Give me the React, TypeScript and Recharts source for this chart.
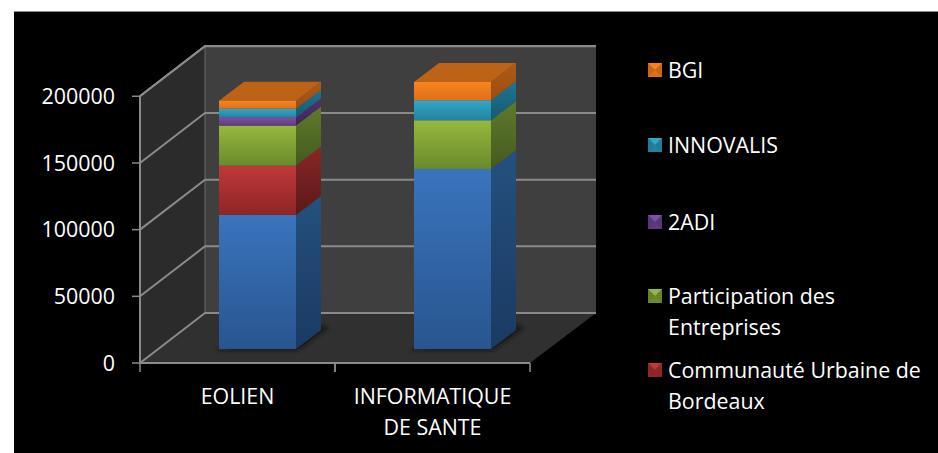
import React from 'react';
import { BarChart, Bar, XAxis, YAxis, CartesianGrid, Legend } from 'recharts';

const categories = ['EOLIEN', 'INFORMATIQUE DE SANTE'];
const yTicks = [0, 50000, 100000, 150000, 200000];

const baseValues = [100500, 135000];
const cubValues = [37000, 0];
const entreprisesValues = [30000, 36500];
const adiValues = [6200, 0];
const innovalisValues = [6500, 15000];
const bgiValues = [6000, 13700];

const data = categories.map((name, i) => ({
  name,
  base: baseValues[i],
  cub: cubValues[i],
  entreprises: entreprisesValues[i],
  adi: adiValues[i],
  innovalis: innovalisValues[i],
  bgi: bgiValues[i],
}));

const W = 938;
const H = 453;
const LEFT = 140;
const RIGHT = 530;
const TOP = 96;
const BOTTOM = 363;
const DEPTH_X = 65;
const DEPTH_Y = 50;
const BAND = (RIGHT - LEFT) / categories.length;
const GRID = '#8a8a8a';
const FONT = '"Open Sans", sans-serif';
const FONT_SIZE = 21.4;

const series = [
  { key: 'base', name: 'Financement', front: ['#3a74bd', '#28558f'], side: ['#25507f', '#1a3a62'] },
  { key: 'cub', name: 'Communauté Urbaine de\nBordeaux', front: ['#c0393a', '#8e2526'], side: ['#8a2727', '#5a1818'], legendTop: 354 },
  { key: 'entreprises', name: 'Participation des\nEntreprises', front: ['#97b83e', '#6a8a2c'], side: ['#5f7a2a', '#455a1f'], legendTop: 280 },
  { key: 'adi', name: '2ADI', front: ['#7f4fa3', '#5f3a80'], side: ['#4f3270', '#3d2658'], legendTop: 206 },
  { key: 'innovalis', name: 'INNOVALIS', front: ['#36a6c8', '#23839f'], side: ['#1f7590', '#165a70'], legendTop: 129 },
  { key: 'bgi', name: 'BGI', front: ['#f6841f', '#e0701a'], side: ['#b05a15', '#9a4e12'], legendTop: 54 },
];

const pts = (list: number[][]) => list.map((p) => p.join(',')).join(' ');

// the 3D box sits behind the chart's own svg
const Walls = () => (
  <svg width={W} height={H} style={{ position: 'absolute', left: 0, top: 0 }}>
    <polygon points={pts([[LEFT, TOP], [LEFT + DEPTH_X, TOP - DEPTH_Y], [LEFT + DEPTH_X, BOTTOM - DEPTH_Y], [LEFT, BOTTOM]])} fill="#2b2b2b" />
    <rect x={LEFT + DEPTH_X} y={TOP - DEPTH_Y} width={RIGHT - LEFT + 1} height={BOTTOM - TOP} fill="#3f3f3f" />
    <polygon points={pts([[LEFT, BOTTOM], [LEFT + DEPTH_X, BOTTOM - DEPTH_Y], [RIGHT + DEPTH_X + 1, BOTTOM - DEPTH_Y], [RIGHT, BOTTOM]])} fill="#303030" />
    <line x1={LEFT + DEPTH_X} x2={LEFT + DEPTH_X} y1={TOP - DEPTH_Y} y2={BOTTOM - DEPTH_Y} stroke="#6a6a6a" />
  </svg>
);

const GridLine = (props: any) => {
  const { x1, x2, y1 } = props;
  return (
    <polyline
      points={pts([[x1, y1], [x1 + DEPTH_X, y1 - DEPTH_Y], [x2 + DEPTH_X + 1, y1 - DEPTH_Y]])}
      fill="none"
      stroke={GRID}
      strokeWidth={2}
    />
  );
};

const BAR_DX = 20;
const BAR_DY = -14;
const SIDE_DX = 25;
const SIDE_DY = -19;

const makeShape = (key: string, isTop: boolean, isBase: boolean) => (props: any) => {
  const { x, y, width, height } = props;
  if (!height || height <= 0) return null;
  const l = x + BAR_DX;
  const r = l + width;
  const t = y + BAR_DY;
  const b = t + height;
  return (
    <g>
      {isBase && (
        <polygon
          points={pts([[l - 5, b + 1], [r + 2, b + 1], [r + SIDE_DX + 7, b + SIDE_DY - 2], [r + SIDE_DX, b + SIDE_DY - 5]])}
          fill="#141414"
          filter="url(#soft)"
        />
      )}
      <polygon points={pts([[r, t], [r + SIDE_DX, t + SIDE_DY], [r + SIDE_DX, b + SIDE_DY], [r, b]])} fill={`url(#side-${key})`} />
      {isTop && (
        <polygon points={pts([[l, t], [l + SIDE_DX, t + SIDE_DY], [r + SIDE_DX, t + SIDE_DY], [r, t]])} fill="#bd6318" />
      )}
      <rect x={l} y={t} width={width} height={height} fill={`url(#front-${key})`} />
    </g>
  );
};

const CategoryTick = (props: any) => {
  const { x, payload } = props;
  const words = String(payload.value).split(' ');
  const lines = words.length > 2 ? [words[0], words.slice(1).join(' ')] : [words.join(' ')];
  return (
    <g>
      <line x1={x - BAND / 2} x2={x - BAND / 2} y1={BOTTOM} y2={BOTTOM + 9} stroke={GRID} strokeWidth={1.5} />
      <line x1={x + BAND / 2} x2={x + BAND / 2} y1={BOTTOM} y2={BOTTOM + 9} stroke={GRID} strokeWidth={1.5} />
      <text x={x} y={BOTTOM} textAnchor="middle" fill="#ffffff" fontFamily={FONT} fontSize={FONT_SIZE}>
        {lines.map((line, i) => (
          <tspan key={line} x={x} dy={i === 0 ? 41 : 31}>
            {line}
          </tspan>
        ))}
      </text>
    </g>
  );
};

const LegendBox = () => (
  <div>
    {series.filter((s) => s.legendTop !== undefined).map((s) => (
      <div
        key={s.key}
        style={{
          position: 'absolute',
          left: 0,
          top: s.legendTop! - 54,
          color: '#ffffff',
          fontFamily: FONT,
          fontSize: FONT_SIZE,
          lineHeight: '31px',
          whiteSpace: 'pre',
          paddingLeft: 20,
        }}
      >
        <svg width={14} height={14} style={{ position: 'absolute', left: 0, top: 9 }}>
          <rect width={14} height={14} fill={s.front[1]} />
          <polygon points="0,0 14,0 7,7" fill={s.front[0]} />
          <polygon points="0,0 7,7 0,14" fill={s.side[0]} opacity={0.5} />
          <polygon points="14,0 7,7 14,14" fill={s.side[0]} opacity={0.5} />
        </svg>
        {s.name}
      </div>
    ))}
  </div>
);

export default function App() {
  return (
    <div style={{ position: 'absolute', left: 0, top: 0, width: W, height: H, background: '#ffffff', overflow: 'hidden' }}>
      <div style={{ position: 'absolute', left: 14, top: 11, right: 0, bottom: 0, background: '#000000', borderTop: '1px solid #8a8a8a' }} />
      <Walls />
      <BarChart
        width={W}
        height={H}
        data={data}
        margin={{ top: TOP, right: W - RIGHT, bottom: 0, left: 0 }}
        barSize={77}
        style={{ position: 'absolute', left: 0, top: 0 }}
      >
        <defs>
          <filter id="soft" x="-20%" y="-20%" width="140%" height="140%">
            <feGaussianBlur stdDeviation="2" />
          </filter>
          {series.map((s) => (
            <React.Fragment key={s.key}>
              <linearGradient id={`front-${s.key}`} x1="0" y1="0" x2="0" y2="1">
                <stop offset="0%" stopColor={s.front[0]} />
                <stop offset="100%" stopColor={s.front[1]} />
              </linearGradient>
              <linearGradient id={`side-${s.key}`} x1="0" y1="0" x2="0" y2="1">
                <stop offset="0%" stopColor={s.side[0]} />
                <stop offset="100%" stopColor={s.side[1]} />
              </linearGradient>
            </React.Fragment>
          ))}
        </defs>
        <CartesianGrid vertical={false} horizontal={GridLine as any} />
        <XAxis
          dataKey="name"
          interval={0}
          height={H - BOTTOM}
          axisLine={{ stroke: GRID, strokeWidth: 2 }}
          tickLine={false}
          tick={CategoryTick}
        />
        <YAxis
          domain={[0, 200000]}
          ticks={yTicks}
          width={LEFT}
          axisLine={{ stroke: GRID, strokeWidth: 2 }}
          tickLine={{ stroke: GRID, strokeWidth: 1.5 }}
          tickSize={8}
          tickMargin={17}
          tick={{ fill: '#ffffff', fontFamily: FONT, fontSize: FONT_SIZE }}
        />
        {series.map((s, i) => (
          <Bar
            key={s.key}
            dataKey={s.key}
            name={s.name}
            stackId="total"
            isAnimationActive={false}
            legendType={s.legendTop === undefined ? 'none' : 'square'}
            shape={makeShape(s.key, i === series.length - 1, i === 0)}
          />
        ))}
        <Legend
          content={LegendBox}
          layout="vertical"
          align="center"
          verticalAlign="middle"
          wrapperStyle={{ position: 'absolute', left: 648, top: 54, width: 290, height: 380, bottom: 'auto', right: 'auto' }}
        />
      </BarChart>
    </div>
  );
}
